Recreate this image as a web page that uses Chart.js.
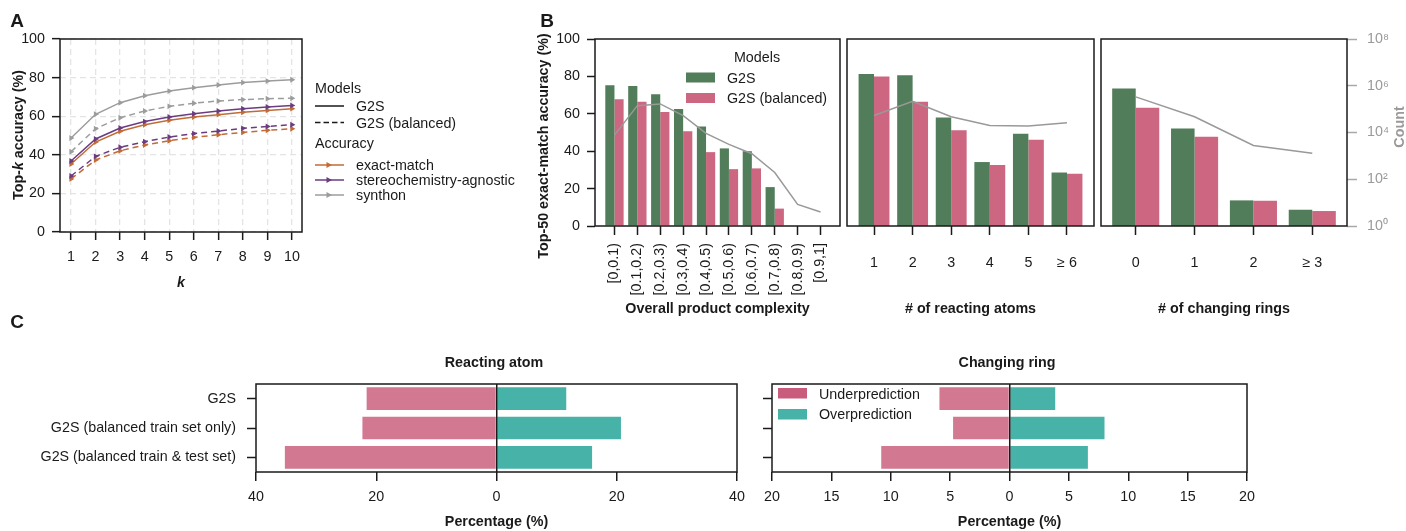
<!DOCTYPE html>
<html>
<head>
<meta charset="utf-8">
<script src="https://cdn.jsdelivr.net/npm/chart.js@4"></script>
<style>
  body { margin: 0; width: 1406px; height: 531px; position: relative; background: #fff; overflow: hidden;
         font-family: "Liberation Sans", Arial, Helvetica, sans-serif; color: #1a1a1a; }
  canvas { position: absolute; }
  .t { position: absolute; font-size: 14.3px; line-height: 17px; white-space: nowrap; transform: translateY(-50%); }
  .c { transform: translate(-50%, -50%); }
  .r { transform: translate(-50%, -50%) rotate(-90deg); }
  .b { font-weight: bold; }
  .letter { font-size: 19px; font-weight: bold; line-height: 19px; }
  svg { position: absolute; left: 0; top: 0; }
</style>
</head>
<body>
<canvas id="chartA"></canvas>
<canvas id="chartB1"></canvas>
<canvas id="chartB2"></canvas>
<canvas id="chartB3"></canvas>
<canvas id="chartC1"></canvas>
<canvas id="chartC2"></canvas>

<svg width="1406" height="531">
  <!-- panel A legend -->
  <line x1="315" y1="106" x2="344" y2="106" stroke="#1a1a1a" stroke-width="1.5"/>
  <line x1="315" y1="122.5" x2="344" y2="122.5" stroke="#1a1a1a" stroke-width="1.5" stroke-dasharray="5.5 3"/>
  <line x1="315" y1="165" x2="344" y2="165" stroke="#c26b36" stroke-width="1.5"/>
  <polygon points="326.5,162 326.5,168 332,165" fill="#c26b36"/>
  <line x1="315" y1="180" x2="344" y2="180" stroke="#6b3c80" stroke-width="1.5"/>
  <polygon points="326.5,177 326.5,183 332,180" fill="#6b3c80"/>
  <line x1="315" y1="195" x2="344" y2="195" stroke="#9c9c9c" stroke-width="1.5"/>
  <polygon points="326.5,192 326.5,198 332,195" fill="#9c9c9c"/>
  <!-- panel B legend -->
  <rect x="686" y="72.5" width="29" height="10" fill="#527d5a"/>
  <rect x="686" y="93" width="29" height="10" fill="#cd6680"/>
  <!-- panel C legend -->
  <rect x="778" y="388" width="29" height="10.5" fill="#c95b7c"/>
  <rect x="778" y="409" width="29" height="10.5" fill="#46b2a8"/>
</svg>

<div class="t c letter" style="left:17px;top:20px">A</div>
<div class="t c letter" style="left:547px;top:20px">B</div>
<div class="t c letter" style="left:17px;top:321px">C</div>

<div class="t r b" style="left:18px;top:135px">Top-<i>k</i> accuracy (%)</div>
<div class="t" style="left:315px;top:88px">Models</div>
<div class="t" style="left:356px;top:106px">G2S</div>
<div class="t" style="left:356px;top:122.5px">G2S (balanced)</div>
<div class="t" style="left:315px;top:143px">Accuracy</div>
<div class="t" style="left:356px;top:165px">exact-match</div>
<div class="t" style="left:356px;top:180px">stereochemistry-agnostic</div>
<div class="t" style="left:356px;top:195px">synthon</div>

<div class="t r b" style="left:543px;top:146px">Top-50 exact-match accuracy (%)</div>
<div class="t c" style="left:757px;top:57px">Models</div>
<div class="t" style="left:727px;top:78px">G2S</div>
<div class="t" style="left:727px;top:98px">G2S (balanced)</div>
<div class="t r b" style="left:1399px;top:127px;color:#9a9a9a">Count</div>

<div class="t c b" style="left:494px;top:362px">Reacting atom</div>
<div class="t c b" style="left:1007px;top:362px">Changing ring</div>
<div class="t" style="left:819px;top:394px">Underprediction</div>
<div class="t" style="left:819px;top:414px">Overprediction</div>

<script>
// top-k accuracy vs k
const kValues = [1, 2, 3, 4, 5, 6, 7, 8, 9, 10];
const exactG2S = [35.2, 46.6, 52.2, 55.6, 57.9, 59.6, 60.8, 62.0, 63.0, 63.9];
const exactBal = [27.5, 37.3, 42.1, 45.1, 47.3, 49.0, 50.4, 51.6, 52.7, 53.5];
const stereoG2S = [36.8, 48.2, 53.9, 57.2, 59.6, 61.3, 62.7, 63.9, 64.8, 65.6];
const stereoBal = [29.0, 39.2, 43.9, 46.8, 49.2, 51.0, 52.3, 53.7, 54.7, 55.6];
const synthonG2S = [48.7, 61.0, 67.0, 70.6, 73.0, 74.8, 76.2, 77.4, 78.2, 78.9];
const synthonBal = [41.6, 53.5, 59.2, 62.7, 65.1, 66.7, 67.9, 68.6, 69.1, 69.3];

// top-50 exact-match accuracy by subgroup, with subgroup counts
const complexityBins = ['[0,0.1)', '[0.1,0.2)', '[0.2,0.3)', '[0.3,0.4)', '[0.4,0.5)',
                        '[0.5,0.6)', '[0.6,0.7)', '[0.7,0.8)', '[0.8,0.9)', '[0.9,1]'];
const complexityG2S = [75.3, 74.9, 70.5, 62.6, 53.2, 41.5, 40.0, 20.8, null, null];
const complexityBal = [67.8, 66.5, 60.9, 50.7, 39.5, 30.4, 30.8, 9.3, null, null];
const complexityCount = [7700, 141000, 167000, 53000, 9100, 3100, 1230, 195, 8.4, 4];

const atomBins = ['1', '2', '3', '4', '5', '≥ 6'];
const atomG2S = [81.3, 80.6, 58.0, 34.2, 49.3, 28.6];
const atomBal = [79.9, 66.4, 51.2, 32.6, 46.1, 27.9];
const atomCount = [53000, 218000, 47000, 20000, 19000, 26000];

const ringBins = ['0', '1', '2', '≥ 3'];
const ringG2S = [73.5, 52.1, 13.7, 8.7];
const ringBal = [63.3, 47.7, 13.5, 8.0];
const ringCount = [333000, 47000, 2780, 1310];

const countTicks = [1, 1e2, 1e4, 1e6, 1e8];

// under/over-prediction percentages
const models = ['G2S', 'G2S (balanced train set only)', 'G2S (balanced train & test set)'];
const atomUnder = [21.6, 22.3, 35.2];
const atomOver = [11.6, 20.7, 15.9];
const ringUnder = [5.9, 4.75, 10.8];
const ringOver = [3.85, 8.0, 6.6];

const INK = '#1a1a1a';
const ORANGE = '#c26b36', PURPLE = '#6b3c80', GREY = '#9c9c9c';
const GREEN = '#527d5a', PINK = '#cd6680';
const PINK_C = '#d27891', TEAL = '#46b2a8';
const FS = 14.3;

Chart.defaults.font.family = '"Liberation Sans", Arial, Helvetica, sans-serif';
Chart.defaults.font.size = FS;
Chart.defaults.color = INK;
Chart.defaults.animation = false;
Chart.defaults.plugins.legend.display = false;
Chart.defaults.plugins.tooltip.enabled = false;

// black box around the plotting area
const frame = {
  id: 'frame',
  afterDraw(chart) {
    const { ctx, chartArea: a } = chart;
    ctx.save();
    ctx.strokeStyle = INK;
    ctx.lineWidth = 1.5;
    ctx.strokeRect(a.left, a.top, a.right - a.left, a.bottom - a.top);
    ctx.restore();
  }
};

// fixed axis thickness so the plot areas line up across canvases
function fit(size) {
  return s => {
    if (s.isHorizontal()) s.height = size; else s.width = size;
    s.paddingLeft = s.paddingRight = s.paddingTop = s.paddingBottom = 0;
  };
}
function ticksAt(values) {
  return s => { s.ticks = values.map(v => ({ value: v })); };
}
function place(id, x, y, w, h) {
  const c = document.getElementById(id);
  c.width = w; c.height = h;
  c.style.left = x + 'px'; c.style.top = y + 'px';
  c.style.width = w + 'px'; c.style.height = h + 'px';
  return c;
}
const SUP = { '0': '⁰', '2': '²', '4': '⁴', '6': '⁶', '8': '⁸' };
const powerLabel = v => '10' + SUP[String(Math.round(Math.log10(v)))];

const base = { responsive: false, devicePixelRatio: 1, animation: false };

// ---- A: top-k accuracy ----
const accuracySeries = [
  { values: synthonG2S, color: GREY, dashed: false },
  { values: synthonBal, color: GREY, dashed: true },
  { values: stereoG2S, color: PURPLE, dashed: false },
  { values: stereoBal, color: PURPLE, dashed: true },
  { values: exactG2S, color: ORANGE, dashed: false },
  { values: exactBal, color: ORANGE, dashed: true }
];
const dashedGrid = {
  color: '#e4e4e4', lineWidth: 1.3,
  tickColor: INK, tickWidth: 1.5, tickLength: 8
};

new Chart(place('chartA', 0, 20, 310, 280), {
  type: 'line',
  data: {
    datasets: accuracySeries.map(s => ({
      data: kValues.map((k, i) => ({ x: k, y: s.values[i] })),
      borderColor: s.color,
      backgroundColor: s.color,
      borderWidth: 1.5,
      borderDash: s.dashed ? [6, 4] : [],
      pointStyle: 'triangle',
      rotation: 90,
      pointRadius: 3.4,
      pointBorderWidth: 0
    }))
  },
  options: {
    ...base,
    layout: { padding: { top: 19, right: 8, left: 0, bottom: 0 } },
    scales: {
      x: {
        type: 'linear', min: 0.55, max: 10.41,
        afterBuildTicks: ticksAt(kValues),
        afterFit: fit(68),
        border: { display: false, dash: [6, 4] },
        grid: dashedGrid,
        ticks: { padding: 8, maxRotation: 0 },
        title: { display: true, text: 'k', font: { weight: 'bold', style: 'italic' }, padding: { top: 0, bottom: 8 } }
      },
      y: {
        min: 0, max: 100,
        afterBuildTicks: ticksAt([0, 20, 40, 60, 80, 100]),
        afterFit: fit(60),
        border: { display: false, dash: [6, 4] },
        grid: dashedGrid,
        ticks: { padding: 7 }
      }
    }
  },
  plugins: [frame]
});

// ---- B: accuracy by subgroup ----
function accuracyPanel(id, rect, padding, bins, g2s, bal, counts, range, o) {
  const xy = arr => bins.map((b, i) => ({ x: i, y: arr[i] }));
  return new Chart(place(id, ...rect), {
    type: 'bar',
    data: {
      datasets: [
        { label: 'G2S', data: xy(g2s), backgroundColor: GREEN, order: 1, yAxisID: 'y' },
        { label: 'G2S (balanced)', data: xy(bal), backgroundColor: PINK, order: 1, yAxisID: 'y' },
        { type: 'line', label: 'Count', data: xy(counts), yAxisID: 'count', order: 0,
          borderColor: '#999999', borderWidth: 1.5, pointRadius: 0 }
      ]
    },
    options: {
      ...base,
      layout: { padding },
      datasets: { bar: { categoryPercentage: 0.8, barPercentage: 1 } },
      scales: {
        x: {
          type: 'linear', min: range[0], max: range[1], offset: false,
          afterBuildTicks: ticksAt(bins.map((b, i) => i)),
          afterFit: fit(94),
          border: { display: false },
          grid: { offset: false, drawOnChartArea: false, tickColor: INK, tickWidth: 1.5, tickLength: 9 },
          ticks: {
            autoSkip: false, padding: o.tickPad,
            minRotation: o.rotate ? 90 : 0, maxRotation: o.rotate ? 90 : 0,
            callback: v => bins[v]
          },
          title: { display: true, text: o.title, font: { weight: 'bold' }, padding: { top: 0, bottom: 2.4 } }
        },
        y: {
          display: o.left, min: 0, max: 100,
          afterBuildTicks: ticksAt([0, 20, 40, 60, 80, 100]),
          afterFit: fit(o.left ? 65 : 0),
          border: { display: false },
          grid: { drawOnChartArea: false, tickColor: INK, tickWidth: 1.5, tickLength: 8 },
          ticks: { padding: 7 }
        },
        count: {
          type: 'logarithmic', position: 'right', display: o.right, min: 1, max: 1e8,
          afterBuildTicks: ticksAt(countTicks),
          afterFit: fit(o.right ? 59 : 0),
          border: { display: false },
          grid: { drawOnChartArea: false, tickColor: '#a8a8a8', tickWidth: 1.5, tickLength: 10 },
          ticks: { padding: 10, color: '#9a9a9a', callback: powerLabel }
        }
      }
    },
    plugins: [frame]
  });
}

accuracyPanel('chartB1', [530, 20, 313, 300], { top: 19, right: 3, left: 0, bottom: 0 },
  complexityBins, complexityG2S, complexityBal, complexityCount, [-0.85, 9.85],
  { title: 'Overall product complexity', rotate: true, tickPad: 8, left: true, right: false });
accuracyPanel('chartB2', [843, 20, 254, 300], { top: 19, right: 3, left: 4, bottom: 0 },
  atomBins, atomG2S, atomBal, atomCount, [-0.7, 5.7],
  { title: '# of reacting atoms', rotate: false, tickPad: 19.4, left: false, right: false });
accuracyPanel('chartB3', [1097, 20, 309, 300], { top: 19, right: 0, left: 4, bottom: 0 },
  ringBins, ringG2S, ringBal, ringCount, [-0.59, 3.59],
  { title: '# of changing rings', rotate: false, tickPad: 19.4, left: false, right: true });

// ---- C: under/over-prediction ----
function errorPanel(id, rect, padding, under, over, limit, step, yWidth, showNames) {
  return new Chart(place(id, ...rect), {
    type: 'bar',
    data: {
      labels: models,
      datasets: [
        { label: 'Underprediction', data: under.map(v => -v), backgroundColor: PINK_C },
        { label: 'Overprediction', data: over, backgroundColor: TEAL }
      ]
    },
    options: {
      ...base,
      indexAxis: 'y',
      layout: { padding },
      datasets: { bar: { categoryPercentage: 0.77, barPercentage: 1 } },
      scales: {
        x: {
          stacked: true, min: -limit, max: limit,
          afterBuildTicks: s => {
            const t = [];
            for (let v = -limit; v <= limit; v += step) t.push({ value: v });
            s.ticks = t;
          },
          afterFit: fit(59),
          border: { display: false },
          grid: {
            z: 1, lineWidth: 1.5,
            color: c => (c.tick && c.tick.value === 0 ? INK : 'rgba(0,0,0,0)'),
            tickColor: INK, tickWidth: 1.5, tickLength: 9
          },
          ticks: { padding: 7.4, maxRotation: 0, callback: v => Math.abs(v) },
          title: { display: true, text: 'Percentage (%)', font: { weight: 'bold' }, padding: { top: 0, bottom: 0.4 } }
        },
        y: {
          stacked: true,
          afterFit: fit(yWidth),
          border: { display: false },
          grid: { offset: false, drawOnChartArea: false, tickColor: INK, tickWidth: 1.5, tickLength: 9 },
          ticks: { padding: 11, callback: (v, i) => (showNames ? models[i] : '') }
        }
      }
    },
    plugins: [frame]
  });
}

errorPanel('chartC1', [0, 340, 750, 191], { top: 44, right: 13, left: 0, bottom: 0 },
  atomUnder, atomOver, 40, 20, 256, true);
errorPanel('chartC2', [750, 340, 656, 191], { top: 44, right: 159, left: 0, bottom: 0 },
  ringUnder, ringOver, 20, 5, 22, false);
</script>
</body>
</html>
